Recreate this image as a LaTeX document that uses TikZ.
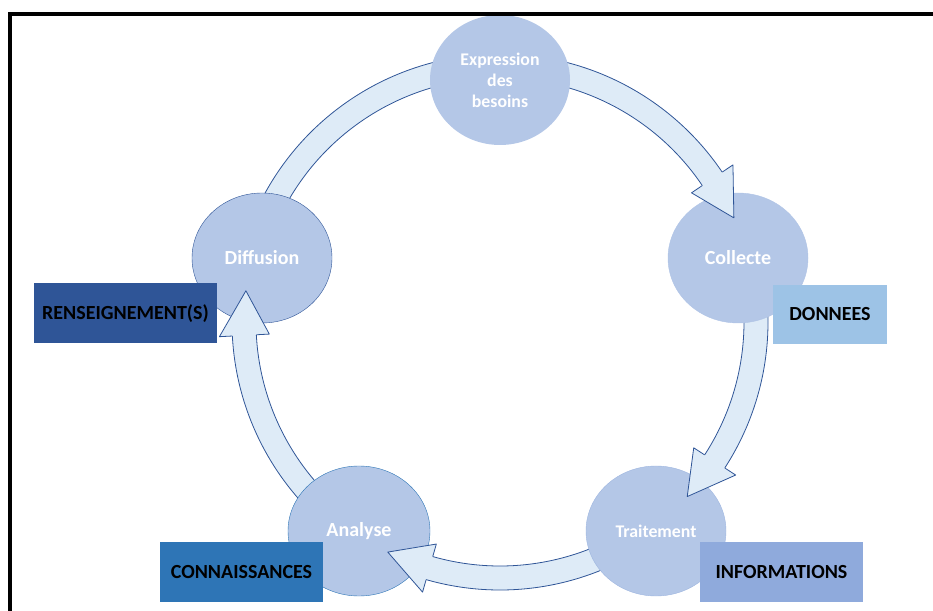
\documentclass[tikz,border=0pt]{standalone}
\usepackage{fontspec}
\setmainfont{Carlito}
\usetikzlibrary{shapes.geometric,calc}
\definecolor{bullefond}{HTML}{B4C7E7}
\definecolor{bandefond}{HTML}{DEEBF7}
\definecolor{bandetrait}{HTML}{2F5597}
\definecolor{bleufonce}{HTML}{2F5597}
\definecolor{bleumoyen}{HTML}{2E75B6}
\definecolor{bleugris}{HTML}{8FAADC}
\definecolor{bleuclair}{HTML}{9DC3E6}

\begin{document}
\begin{tikzpicture}[x=1pt,y=1pt,
        bulle/.style={ellipse,fill=bullefond,minimum width=140pt,minimum height=130pt,
            inner sep=0pt,text=white,align=center,font=\bfseries\fontsize{20}{21}\selectfont},
        petit/.style={font=\bfseries\fontsize{17.8}{21}\selectfont},
        boite/.style={minimum height=60pt,inner sep=0pt,text=black,text height=13pt,text depth=0pt,
            font=\bfseries\fontsize{20}{21}\selectfont},
        bande/.style={fill=bandefond,draw=bandetrait,line width=0.8pt,line join=round}]
    \useasboundingbox (0,0) rectangle (933,610);
    \coordinate (O) at (500,288);

    % bandes du cycle (sous les bulles)
    \filldraw[bande] ($(O)+(85:268)$) arc[start angle=85,end angle=32,radius=268]
        -- ($(O)+(32:244)$) arc[start angle=32,end angle=85,radius=244] -- cycle;
    \filldraw[bande] ($(O)+(8:268)$) arc[start angle=8,end angle=-35,radius=268]
        -- ($(O)+(-35:244)$) arc[start angle=-35,end angle=8,radius=244] -- cycle;
    \filldraw[bande] ($(O)+(-60:268)$) arc[start angle=-60,end angle=-108,radius=268]
        -- ($(O)+(-108:244)$) arc[start angle=-108,end angle=-60,radius=244] -- cycle;
    \filldraw[bande] ($(O)+(-130:268)$) arc[start angle=-130,end angle=-179,radius=268]
        -- ($(O)+(-179:244)$) arc[start angle=-179,end angle=-130,radius=244] -- cycle;
    \filldraw[bande] ($(O)+(158:268)$) arc[start angle=158,end angle=97,radius=268]
        -- ($(O)+(97:244)$) arc[start angle=97,end angle=158,radius=244] -- cycle;

    \node[bulle,petit] (Ex) at (500,530) {Expression\\des\\besoins};
    \node[bulle,draw=bullefond!90!bleugris] (Co) at (738,352) {Collecte};
    \node[bulle,petit,draw=bleugris!60!bullefond] (Tr) at (656,79) {Traitement};
    \node[bulle,draw=bleumoyen,minimum width=142pt] (An) at (359,79) {Analyse};
    \node[bulle,draw=bleufonce] (Di) at (262,352) {Diffusion};

    % pointes (sur les bulles)
    \filldraw[bande] ($(O)+(34:268)$) -- ($(O)+(34:281)$) -- ($(O)+(24:256)$)
        -- ($(O)+(34:231)$) -- ($(O)+(34:244)$);
    \filldraw[bande] ($(O)+(-33:268)$) -- ($(O)+(-33:281)$) -- ($(O)+(-43:256)$)
        -- ($(O)+(-33:231)$) -- ($(O)+(-33:244)$);
    \filldraw[bande] ($(O)+(-106:268)$) -- ($(O)+(-106:281)$) -- ($(O)+(-116:256)$)
        -- ($(O)+(-106:231)$) -- ($(O)+(-106:244)$);
    \filldraw[bande] ($(O)+(-177:268)$) -- ($(O)+(-177:281)$) -- ($(O)+(-187:256)$)
        -- ($(O)+(-177:231)$) -- ($(O)+(-177:244)$);

    \node[boite,fill=bleufonce,minimum width=183pt] (Re) at (125.5,297) {RENSEIGNEMENT(S)};
    \node[boite,fill=bleuclair,minimum width=114pt,minimum height=59pt] (Do) at (830,295.5) {DONNEES};
    \node[boite,fill=bleugris,minimum width=163pt] (In) at (781.5,38) {INFORMATIONS};
    \node[boite,fill=bleumoyen,minimum width=163pt] (Cn) at (241.5,38) {CONNAISSANCES};

    % cadre
    \draw[line width=4pt] (10.3,-5) -- (10.3,596.3) -- (940,596.3);
\end{tikzpicture}
\end{document}
